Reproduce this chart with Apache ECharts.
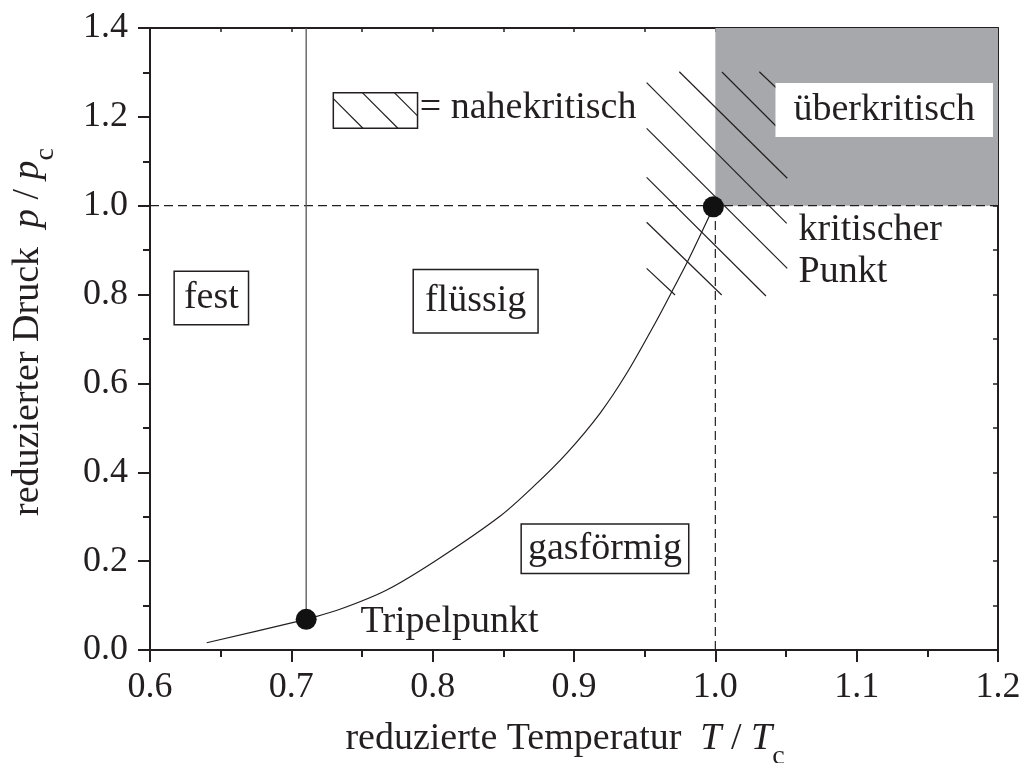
<!DOCTYPE html>
<html>
<head>
<meta charset="utf-8">
<script src="https://cdn.jsdelivr.net/npm/echarts@6/dist/echarts.min.js"></script>
<style>
  html, body { margin: 0; background: #fff; }
  #chart { width: 1022px; height: 763px; }
</style>
</head>
<body>
<div id="chart"></div>
<script>
const FONT = 'Liberation Serif';
const INK = '#231f20';

// axis ranges
const xRange = [0.6, 1.2];
const yRange = [0.0, 1.4];

// vapour pressure curve, triple point -> critical point
const curveT = [0.6401, 0.7038, 0.7105, 0.7344, 0.7675, 0.8029, 0.8476, 0.8712, 0.8948, 0.9184, 0.9373, 0.9573, 0.9703, 0.9809, 0.995, 0.9986];
const curveP = [0.0164, 0.0637, 0.069, 0.0916, 0.135, 0.2026, 0.301, 0.3676, 0.4427, 0.5328, 0.6228, 0.735, 0.8130, 0.8778, 0.9717, 0.9977];

const triplePoint = [0.7105, 0.069];
const criticalPoint = [0.9986, 0.9977];
const meltLine = [[0.7105, 0.069], [0.7105, 1.4]];
const critPressureLine = [[0.6, 1.0], [1.2, 1.0]];
const critTempLine = [[1.0, 0.0], [1.0, 1.0]];
const superRegion = [[1.0, 1.0], [1.2, 1.4]];

// near-critical hatching (start / end of each stroke)
const hatchStart = [[0.9514, 1.2769], [0.9745, 1.3016], [1.0047, 1.301], [1.0311, 1.3016], [0.9514, 1.1742], [0.9514, 1.0639], [0.9514, 0.9627], [0.9514, 0.8591]];
const hatchEnd = [[1.0505, 0.9604], [1.0509, 1.0617], [1.0429, 1.1794], [1.0434, 1.2643], [1.0509, 0.8591], [1.0358, 0.7968], [1.0045, 0.799], [0.9715, 0.799]];

// phase names
const phaseLabels = ['fest', 'flüssig', 'gasförmig', 'überkritisch'];
const phasePos = [[0.6434, 0.7923], [0.8304, 0.7848], [0.9219, 0.2278], [1.1195, 1.2154]];

// free text
const noteLabels = ['Tripelpunkt', 'kritischer\nPunkt', '= nahekritisch'];
const notePos = [[0.7486, 0.063], [1.0585, 0.8984], [0.7905, 1.2199]];

// hatched legend swatch [x0, y0, x1, y1]
const legendBox = [0.7297, 1.2545, 0.7893, 1.1744];

const boxStyles = {
  'fest': { padding: [8, 9, 6, 9], borderColor: INK, borderWidth: 1.5, backgroundColor: '#fff' },
  'flüssig': { padding: [12, 11, 12, 11], borderColor: INK, borderWidth: 1.5, backgroundColor: '#fff' },
  'gasförmig': { padding: [5, 6, 5, 6], borderColor: INK, borderWidth: 1.5, backgroundColor: '#fff' },
  'überkritisch': { padding: [8, 18, 8, 18], backgroundColor: '#fff' }
};

const nameRich = {
  i: { fontFamily: FONT, fontSize: 38, fontStyle: 'italic', color: INK },
  s: { fontFamily: FONT, fontSize: 28, color: INK, padding: [36, 0, 0, 0] }
};

const chart = echarts.init(document.getElementById('chart'));

const plainLine = (data, style, smooth) => ({
  type: 'line', data: data, symbol: 'none', silent: true, smooth: smooth || false,
  lineStyle: Object.assign({ color: INK, width: 1.2 }, style)
});

const series = [];

// grey supercritical region
series.push({
  type: 'line', data: [], silent: true,
  markArea: {
    silent: true,
    itemStyle: { color: '#a7a8ab' },
    data: [[{ coord: superRegion[0] }, { coord: superRegion[1] }]]
  }
});

series.push(plainLine(critPressureLine, { type: [9, 5], width: 1.2 }));
series.push(plainLine(critTempLine, { type: [9, 5], width: 1.2 }));
series.push(plainLine(meltLine, { color: '#555', width: 1.3 }));

hatchStart.forEach((p, k) => series.push(plainLine([p, hatchEnd[k]], { width: 1.2 })));

series.push(plainLine(curveT.map((t, k) => [t, curveP[k]]), { width: 1.2 }, 0.3));

series.push({
  type: 'scatter', data: [triplePoint, criticalPoint], symbolSize: 21, silent: true,
  itemStyle: { color: '#111', opacity: 1 }, z: 5
});

// legend swatch with hatching
series.push({
  type: 'custom', data: [legendBox], silent: true, z: 6,
  renderItem: function (params, api) {
    const p0 = api.coord([api.value(0), api.value(1)]);
    const p1 = api.coord([api.value(2), api.value(3)]);
    const w = p1[0] - p0[0], h = p1[1] - p0[1];
    const kids = [{
      type: 'rect', shape: { x: p0[0], y: p0[1], width: w, height: h },
      style: { fill: '#fff', stroke: INK, lineWidth: 1.5 }
    }];
    [-6, 29, 61].forEach(function (off) {
      const t0 = Math.max(0, -off), t1 = Math.min(h, w - off);
      kids.push({
        type: 'line',
        shape: { x1: p0[0] + off + t0, y1: p0[1] + t0, x2: p0[0] + off + t1, y2: p0[1] + t1 },
        style: { stroke: INK, lineWidth: 1.2 }
      });
    });
    return { type: 'group', children: kids };
  }
});

// phase names in boxes
series.push({
  type: 'scatter', symbolSize: 1, silent: true, z: 7,
  itemStyle: { color: 'rgba(0,0,0,0)', opacity: 1 },
  data: phaseLabels.map((name, k) => ({
    value: phasePos[k], name: name,
    label: Object.assign({
      show: true, position: 'inside', formatter: '{b}',
      fontFamily: FONT, fontSize: 38, color: INK
    }, boxStyles[name])
  }))
});

// free annotations
series.push({
  type: 'scatter', symbolSize: 1, silent: true, z: 7,
  itemStyle: { color: 'rgba(0,0,0,0)', opacity: 1 },
  data: noteLabels.map((name, k) => ({ value: notePos[k], name: name })),
  label: {
    show: true, position: 'right', distance: 0, formatter: '{b}', align: 'left',
    fontFamily: FONT, fontSize: 38, lineHeight: 42, color: INK
  }
});

const axisLineStyle = { color: INK, width: 2 };

chart.setOption({
  animation: false,
  backgroundColor: '#fff',
  textStyle: { fontFamily: FONT },
  grid: { left: 150, top: 28, right: 24, bottom: 113, containLabel: false, outerBoundsMode: 'none' },
  xAxis: [{
    type: 'value', position: 'bottom', min: xRange[0], max: xRange[1], interval: 0.1,
    splitLine: { show: false },
    axisLine: { onZero: false, lineStyle: axisLineStyle },
    axisTick: { length: 12, lineStyle: axisLineStyle },
    minorTick: { show: true, splitNumber: 2, length: 7, lineStyle: axisLineStyle },
    axisLabel: { fontFamily: FONT, fontSize: 36, color: INK, margin: 20, formatter: v => v.toFixed(1) },
    name: 'reduzierte Temperatur  {i|T} / {i|T}{s|c}',
    nameLocation: 'middle', nameGap: 57,
    nameTextStyle: { fontFamily: FONT, fontSize: 38, color: INK, rich: nameRich, padding: [0, 18, 0, 0] }
  }, {
    type: 'value', position: 'top', min: xRange[0], max: xRange[1], interval: 0.05,
    splitLine: { show: false },
    axisLine: { onZero: false, lineStyle: axisLineStyle },
    axisTick: { inside: true, length: 4, lineStyle: { color: INK, width: 1.5 } },
    axisLabel: { show: false }
  }],
  yAxis: [{
    type: 'value', position: 'left', min: yRange[0], max: yRange[1], interval: 0.2,
    splitLine: { show: false },
    axisLine: { onZero: false, lineStyle: axisLineStyle },
    axisTick: { length: 12, lineStyle: axisLineStyle },
    minorTick: { show: true, splitNumber: 2, length: 7, lineStyle: axisLineStyle },
    axisLabel: { fontFamily: FONT, fontSize: 36, color: INK, margin: 22, formatter: v => v.toFixed(1) },
    name: 'reduzierter Druck  {i|p} / {i|p}{s|c}',
    nameLocation: 'middle', nameRotate: 90, nameGap: 90,
    nameTextStyle: { fontFamily: FONT, fontSize: 38, color: INK, rich: nameRich, padding: [0, 0, 0, 14] }
  }, {
    type: 'value', position: 'right', min: yRange[0], max: yRange[1], interval: 0.1,
    splitLine: { show: false },
    axisLine: { onZero: false, lineStyle: axisLineStyle },
    axisTick: { inside: true, length: 5, lineStyle: { color: INK, width: 1.5 } },
    axisLabel: { show: false }
  }],
  series: series
});
</script>
</body>
</html>
